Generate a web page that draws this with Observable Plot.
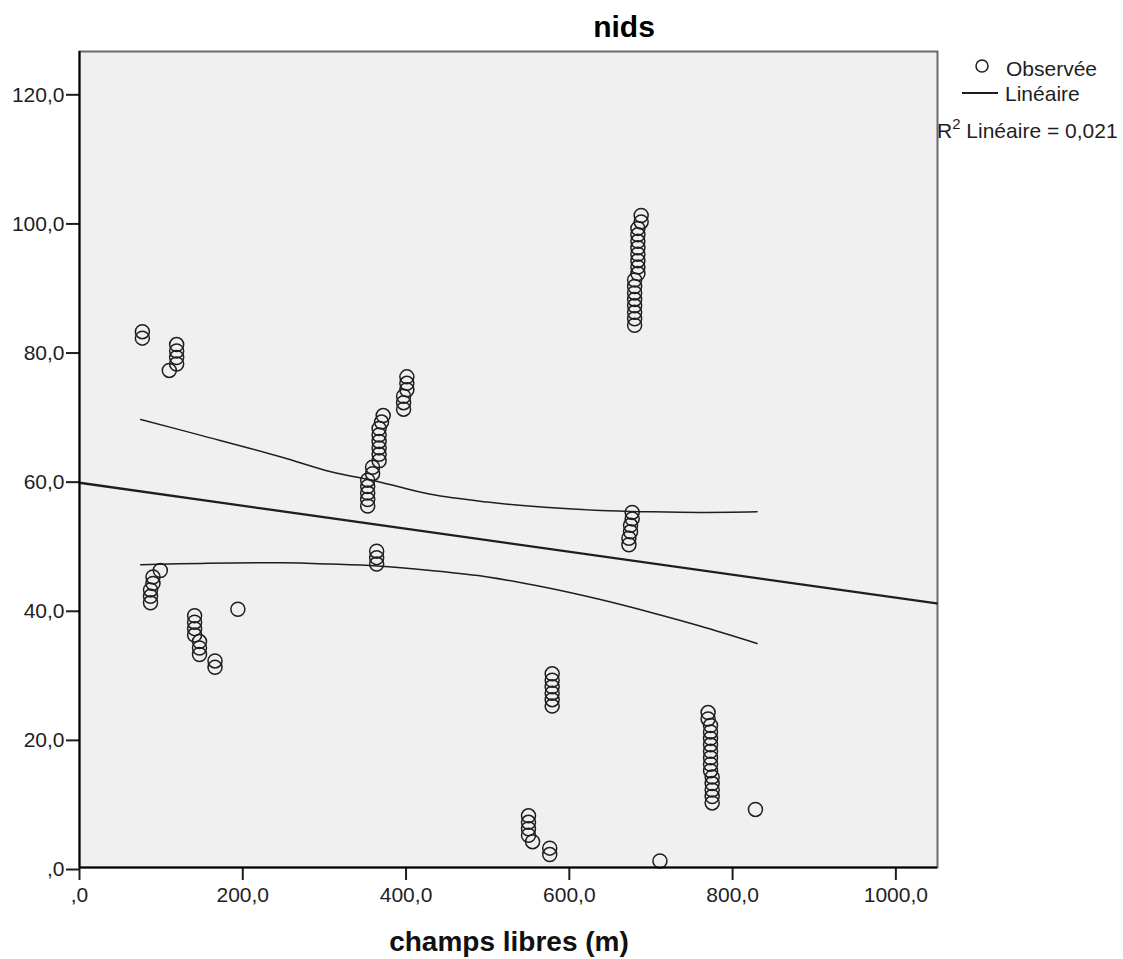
<!DOCTYPE html>
<html>
<head>
<meta charset="utf-8">
<script src="https://cdn.jsdelivr.net/npm/d3@7"></script>
<script src="https://cdn.jsdelivr.net/npm/@observablehq/plot@0.6"></script>
<style>
  html, body { margin: 0; padding: 0; background: #fff; }
  #chart { width: 1123px; height: 959px; }
</style>
</head>
<body>
<div id="chart"></div>
<script>
// Observed values: distance to open fields (m) and number of nests
const champs = [
  77, 77,
  110, 119, 119, 119, 119,
  87, 87, 87, 90, 90, 99,
  141, 141, 141, 141, 147, 147, 147,
  166, 166,
  194,
  353, 353, 353, 353, 353, 359, 359,
  367, 367, 367, 367, 367, 367, 370, 372,
  364, 364, 364,
  397, 397, 397, 401, 401, 401,
  550, 550, 550, 550, 555, 576, 576,
  579, 579, 579, 579, 579, 579,
  677, 677, 675, 675, 673, 673,
  688, 688,
  684, 684, 684, 684, 684, 684, 684, 684,
  680, 680, 680, 680, 680, 680, 680, 680,
  711,
  770, 770,
  773, 773, 773, 773, 773, 773, 773, 773,
  775, 775, 775, 775, 775,
  828
];
const nids = [
  83, 82,
  77, 81, 80, 79, 78,
  43, 42, 41, 45, 44, 46,
  39, 38, 37, 36, 35, 34, 33,
  32, 31,
  40,
  60, 59, 58, 57, 56, 62, 61,
  68, 67, 66, 65, 64, 63, 69, 70,
  49, 48, 47,
  73, 72, 71, 76, 75, 74,
  8, 7, 6, 5, 4, 3, 2,
  30, 29, 28, 27, 26, 25,
  55, 54, 53, 52, 51, 50,
  101, 100,
  99, 98, 97, 96, 95, 94, 93, 92,
  91, 90, 89, 88, 87, 86, 85, 84,
  1,
  24, 23,
  22, 21, 20, 19, 18, 17, 16, 15,
  14, 13, 12, 11, 10,
  9
];

// Linear fit across the axis range
const fitX = [0, 1050];
const fitY = [59.6, 40.9];

// 95% confidence band of the fitted mean
const ciX     = [75, 150, 247, 308, 365, 430, 500, 570, 638, 700, 760, 830];
const ciUpper = [69.4, 66.9, 63.6, 61.3, 59.8, 57.8, 56.6, 55.8, 55.3, 55.1, 55.0, 55.1];
const ciLower = [46.9, 47.1, 47.2, 47.0, 46.7, 46.0, 45.0, 43.4, 41.5, 39.5, 37.4, 34.7];

const xTicks = [0, 200, 400, 600, 800, 1000];
const yTicks = [0, 20, 40, 60, 80, 100, 120];

const points = champs.map((c, i) => ({champs: c, nids: nids[i]}));
const fit = fitX.map((x, i) => ({x, y: fitY[i]}));
const upper = ciX.map((x, i) => ({x, y: ciUpper[i]}));
const lower = ciX.map((x, i) => ({x, y: ciLower[i]}));

const fmt = d => d === 0 ? ",0" : d.toFixed(1).replace(".", ",");
const ink = "#1e1e1e";

const chart = Plot.plot({
  width: 1123,
  height: 959,
  marginLeft: 79,
  marginRight: 186,
  marginTop: 51,
  marginBottom: 92,
  style: {
    fontFamily: "'Liberation Sans', Arial, sans-serif",
    fontSize: "21px",
    color: ink,
    background: "#fff"
  },
  x: {domain: [0, 1051]},
  y: {domain: [0, 126.4]},
  marks: [
    Plot.frame({fill: "#f0f0f0", stroke: "#6a6a6a", strokeWidth: 2}),
    Plot.line(upper, {x: "x", y: "y", curve: "catmull-rom", stroke: ink, strokeWidth: 1.5}),
    Plot.line(lower, {x: "x", y: "y", curve: "catmull-rom", stroke: ink, strokeWidth: 1.5}),
    Plot.line(fit, {x: "x", y: "y", stroke: ink, strokeWidth: 2.3}),
    Plot.dot(points, {x: "champs", y: "nids", r: 7, stroke: ink, strokeWidth: 1.5, fill: "none"}),
    Plot.axisX({ticks: xTicks, tickFormat: fmt, tickSize: 13, tickPadding: 7, strokeWidth: 2, label: null}),
    Plot.axisY({ticks: yTicks, tickFormat: fmt, tickSize: 13, tickPadding: 2, strokeWidth: 2, dy: 2, label: null}),
    Plot.ruleX([0], {stroke: "#000", strokeWidth: 2}),
    Plot.ruleY([0], {stroke: "#000", strokeWidth: 2})
  ]
});

document.getElementById("chart").appendChild(chart);

// Title, axis title and legend
const svg = d3.select(chart);
svg.append("text")
  .attr("x", 624).attr("y", 37)
  .attr("text-anchor", "middle")
  .attr("font-size", 30).attr("font-weight", "bold")
  .attr("fill", "#000")
  .text("nids");

svg.append("text")
  .attr("x", 509).attr("y", 951)
  .attr("text-anchor", "middle")
  .attr("font-size", 28).attr("font-weight", "bold")
  .attr("fill", "#111")
  .text("champs libres (m)");

const legend = svg.append("g").attr("fill", ink).attr("text-anchor", "start");
legend.append("circle")
  .attr("cx", 982).attr("cy", 66).attr("r", 6)
  .attr("fill", "none").attr("stroke", ink).attr("stroke-width", 1.5);
legend.append("text").attr("x", 1006).attr("y", 76).text("Observée");
legend.append("line")
  .attr("x1", 962).attr("x2", 998).attr("y1", 93).attr("y2", 93)
  .attr("stroke", ink).attr("stroke-width", 2);
legend.append("text").attr("x", 1005).attr("y", 101).text("Linéaire");
const r2 = legend.append("text").attr("x", 937).attr("y", 138);
r2.append("tspan").text("R");
r2.append("tspan").attr("font-size", 15).attr("dy", -9).text("2");
r2.append("tspan").attr("dy", 9).text(" Linéaire = 0,021");
</script>
</body>
</html>
